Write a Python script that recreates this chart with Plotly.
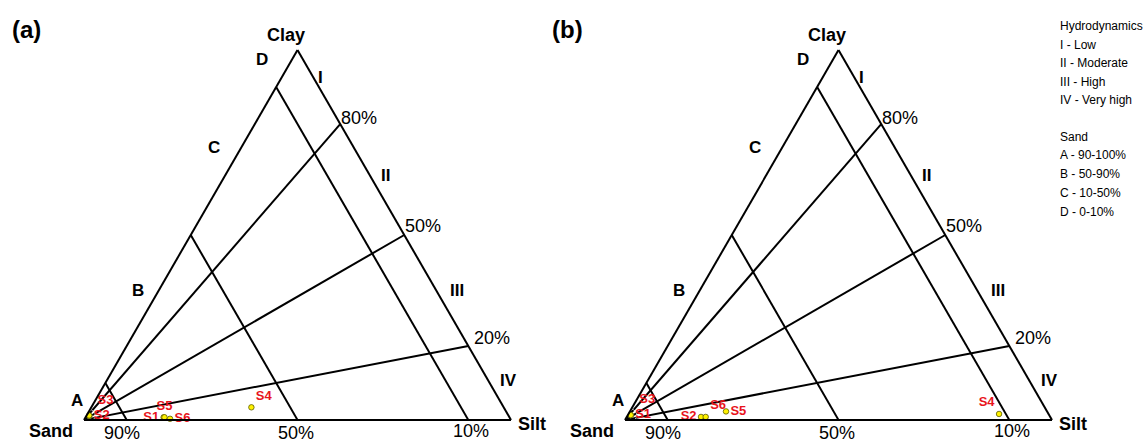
import plotly.graph_objects as go

# ---------------- data ----------------
SAMPLES = ["S1", "S2", "S3", "S4", "S5", "S6"]

# panel (a) composition, %
SAND_A = [81.0, 98.2, 98.2, 59.1, 80.8, 79.7]
SILT_A = [18.3, 0.7, 0.6, 37.5, 18.5, 20.0]
CLAY_A = [0.7, 1.1, 1.2, 3.4, 0.7, 0.3]

# panel (b) composition, %
SAND_B = [98.0, 81.8, 98.0, 11.6, 75.2, 80.7]
SILT_B = [0.7, 17.4, 0.7, 86.8, 22.5, 18.5]
CLAY_B = [1.3, 0.8, 1.3, 1.6, 2.3, 0.8]

SAND_LEVELS = [90, 50, 10]          # sand % boundaries
CLAY_RATIOS = [80, 50, 20]          # clay in mud fraction, %
SAND_CLASSES = ["A", "B", "C", "D"]
HYDRO_CLASSES = ["I", "II", "III", "IV"]
LEGEND_HYDRO = ["Hydrodynamics", "I - Low", "II - Moderate", "III - High", "IV - Very high"]
LEGEND_SAND = ["Sand", "A - 90-100%", "B - 50-90%", "C - 10-50%", "D - 0-10%"]

# ---------------- style ----------------
W, H = 1143, 444
FONT = "Liberation Sans, Arial, sans-serif"
RED = "#E8141C"
LINE = dict(color="black", width=2)
DX = 541  # horizontal offset of panel (b) in px
DOT = 5.5

TEXTPOS_A = ["middle left", "middle right", "top right", "top right", "top center", "middle right"]
TEXTPOS_B = ["middle right", "middle left", "top right", "top left", "middle right", "top right"]
# label gap (invisible marker size used only to offset the label text)
GAP_A = [DOT, DOT, 12, DOT, DOT, DOT]
GAP_B = [DOT, DOT, 12, DOT, DOT, DOT]

fig = go.Figure()


def add_panel(subplot, sand, silt, clay, textpos, gap):
    for s in SAND_LEVELS:
        fig.add_trace(go.Scatterternary(
            a=[100 - s, 0], b=[s, s], c=[0, 100 - s], mode="lines",
            line=LINE, subplot=subplot, hoverinfo="skip", showlegend=False, cliponaxis=False))
    for r in CLAY_RATIOS:
        fig.add_trace(go.Scatterternary(
            a=[0, r], b=[100, 0], c=[0, 100 - r], mode="lines",
            line=LINE, subplot=subplot, hoverinfo="skip", showlegend=False, cliponaxis=False))
    # sample labels
    fig.add_trace(go.Scatterternary(
        a=clay, b=sand, c=silt, mode="markers+text", text=SAMPLES,
        textposition=textpos,
        textfont=dict(family=FONT, size=13, color=RED, weight="bold"),
        marker=dict(size=gap, color="rgba(0,0,0,0)"),
        subplot=subplot, hoverinfo="skip", showlegend=False, cliponaxis=False))
    # sample dots
    fig.add_trace(go.Scatterternary(
        a=clay, b=sand, c=silt, mode="markers", text=SAMPLES,
        marker=dict(size=DOT, color="#FFF200", line=dict(color="#5a5a00", width=0.8)),
        subplot=subplot, showlegend=False, cliponaxis=False))


add_panel("ternary", SAND_A, SILT_A, CLAY_A, TEXTPOS_A, GAP_A)
add_panel("ternary2", SAND_B, SILT_B, CLAY_B, TEXTPOS_B, GAP_B)

axis = dict(showticklabels=False, ticks="", showgrid=False, showline=True,
            linecolor="black", linewidth=2, title=dict(text=""))


def tern(x0, x1, ytop, ybot):
    return dict(
        domain=dict(x=[x0 / W, x1 / W], y=[1 - ybot / H, 1 - ytop / H]),
        sum=100, bgcolor="white",
        aaxis=axis, baxis=axis, caxis=axis)


ann = []


def txt(x, y, s, size, bold=False, xanchor="center"):
    ann.append(dict(x=x / W, y=1 - y / H, xref="paper", yref="paper", text=s,
                    showarrow=False, xanchor=xanchor, yanchor="middle",
                    font=dict(family=FONT, size=size, color="black",
                              weight="bold" if bold else "normal")))


for k, tag in enumerate(["(a)", "(b)"]):
    o = k * DX
    txt(26 + o, 30, tag, 24, True)
    txt(286 + o, 35, "Clay", 18, True)
    txt(51 + o, 431, "Sand", 18, True)
    txt(532 + o, 424, "Silt", 18, True)
    for lab, (x, y) in zip(SAND_CLASSES, [(77, 400), (138, 290), (214, 147), (262, 60)]):
        txt(x + o, y, lab, 17, True)
    for lab, (x, y) in zip(HYDRO_CLASSES, [(320, 77), (385, 176), (457, 290), (508, 380)]):
        txt(x + o, y, lab, 17, True)
    for lvl, (x, y) in zip(SAND_LEVELS, [(122, 433), (296, 433), (471, 431)]):
        txt(x + o, y, f"{lvl}%", 18)
    for rat, (x, y) in zip(CLAY_RATIOS, [(359, 118), (423, 226), (492, 338)]):
        txt(x + o, y, f"{rat}%", 18)

for s, y in zip(LEGEND_HYDRO + LEGEND_SAND, [26, 45, 63, 82, 100, 137, 155, 174, 193, 212]):
    txt(1058, y, s, 12, False, "left")

fig.update_layout(
    width=W, height=H, margin=dict(l=0, r=0, t=0, b=0),
    paper_bgcolor="white", plot_bgcolor="white",
    ternary=tern(84, 511, 50, 420),
    ternary2=tern(84 + DX, 511 + DX, 50, 420),
    annotations=ann, showlegend=False,
)

fig.write_html("out.html")
